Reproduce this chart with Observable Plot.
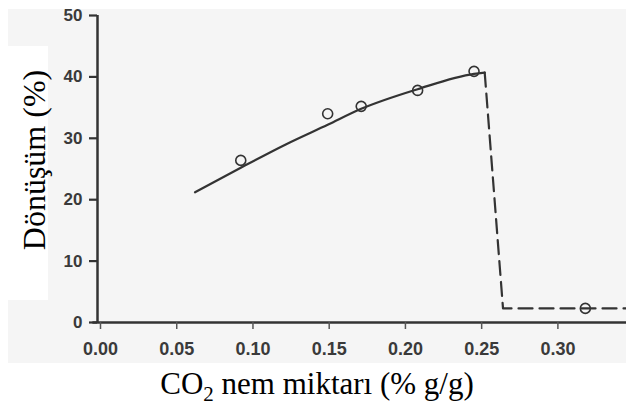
<!DOCTYPE html>
<html>
<head>
<meta charset="utf-8">
<script src="https://cdn.jsdelivr.net/npm/d3@7"></script>
<script src="https://cdn.jsdelivr.net/npm/@observablehq/plot@0.6"></script>
<style>
  html, body { margin: 0; padding: 0; background: #ffffff; }
  #chart svg { display: block; }
</style>
</head>
<body>
<div id="chart"></div>
<script>
// Fitted conversion curve (solid)
const curveX = [0.062, 0.092, 0.1215, 0.149, 0.171, 0.208, 0.245, 0.252];
const curveY = [21.2, 25.2, 29.0, 32.2, 34.8, 38.0, 40.5, 40.7];

// Measured conversion values (open circles)
const pointX = [0.092, 0.149, 0.171, 0.208, 0.245, 0.318];
const pointY = [26.4, 34.0, 35.2, 37.8, 40.9, 2.3];

// Drop-off beyond the critical moisture content (dashed)
const dropX = [0.252, 0.264, 0.345];
const dropY = [40.7, 2.3, 2.3];

// Axis ticks
const xTicks = [0, 0.05, 0.10, 0.15, 0.20, 0.25, 0.30];
const yTicks = [0, 10, 20, 30, 40, 50];

const curve = curveX.map((x, i) => ({x, y: curveY[i]}));
const points = pointX.map((x, i) => ({x, y: pointY[i]}));
const drop = dropX.map((x, i) => ({x, y: dropY[i]}));

const ink = "#333333";

const chart = Plot.plot({
  width: 626,
  height: 405,
  marginLeft: 100,
  marginRight: 0,
  marginTop: 15,
  marginBottom: 83,
  x: {domain: [0, 0.345]},
  y: {domain: [0, 50]},
  style: {background: "#f5f5f5", fontFamily: "'Liberation Sans', Arial, sans-serif"},
  marks: [
    Plot.ruleY([0], {x1: -0.005, x2: 0.345, stroke: ink, strokeWidth: 2.5}),
    Plot.ruleX([0], {y1: 0, y2: 50, dx: -3, stroke: ink, strokeWidth: 2.5}),
    Plot.axisX({
      ticks: xTicks, tickFormat: d3.format(".2f"), tickSize: 7, tickPadding: 13,
      fontSize: 18, fontWeight: "bold", fill: "#3a3a3a", stroke: "#555", strokeWidth: 1.5,
      label: null, style: {letterSpacing: "1px"}
    }),
    Plot.axisY({
      ticks: yTicks, tickSize: 8, tickPadding: 7, dx: -3,
      fontSize: 17, fontWeight: "bold", fill: "#3a3a3a", stroke: ink, strokeWidth: 2.2, label: null
    }),
    Plot.line(curve, {x: "x", y: "y", curve: "monotone-x", stroke: ink, strokeWidth: 2.2}),
    Plot.line(drop, {x: "x", y: "y", stroke: ink, strokeWidth: 2.2, strokeDasharray: "14,7"}),
    Plot.dot(points, {x: "x", y: "y", r: 5, stroke: ink, strokeWidth: 1.6, fill: "none"})
  ]
});

// White margins around the axis titles
const svg = d3.select(chart);
const bg = svg.insert("g", ":first-child");
bg.append("rect").attr("x", 0).attr("y", 0).attr("width", 626).attr("height", 9).attr("fill", "#fff");
bg.append("rect").attr("x", 0).attr("y", 0).attr("width", 8).attr("height", 405).attr("fill", "#fff");
bg.append("rect").attr("x", 8).attr("y", 46).attr("width", 40).attr("height", 254).attr("fill", "#fff");
bg.append("rect").attr("x", 0).attr("y", 363).attr("width", 626).attr("height", 42).attr("fill", "#fff");

// Axis titles
const serif = "'Liberation Serif', 'Times New Roman', serif";
const xt = svg.append("text")
  .attr("x", 317).attr("y", 394)
  .attr("text-anchor", "middle")
  .attr("fill", "#000")
  .style("font-family", serif).style("font-size", "31px");
xt.append("tspan").text("CO");
xt.append("tspan").attr("dy", 7).style("font-size", "21px").text("2");
xt.append("tspan").attr("dy", -7).text(" nem miktarı (% g/g)");

svg.append("text")
  .attr("transform", "translate(45,160) rotate(-90)")
  .attr("text-anchor", "middle")
  .attr("fill", "#000")
  .style("font-family", serif).style("font-size", "32px")
  .text("Dönüşüm (%)");

document.getElementById("chart").appendChild(chart);
</script>
</body>
</html>
